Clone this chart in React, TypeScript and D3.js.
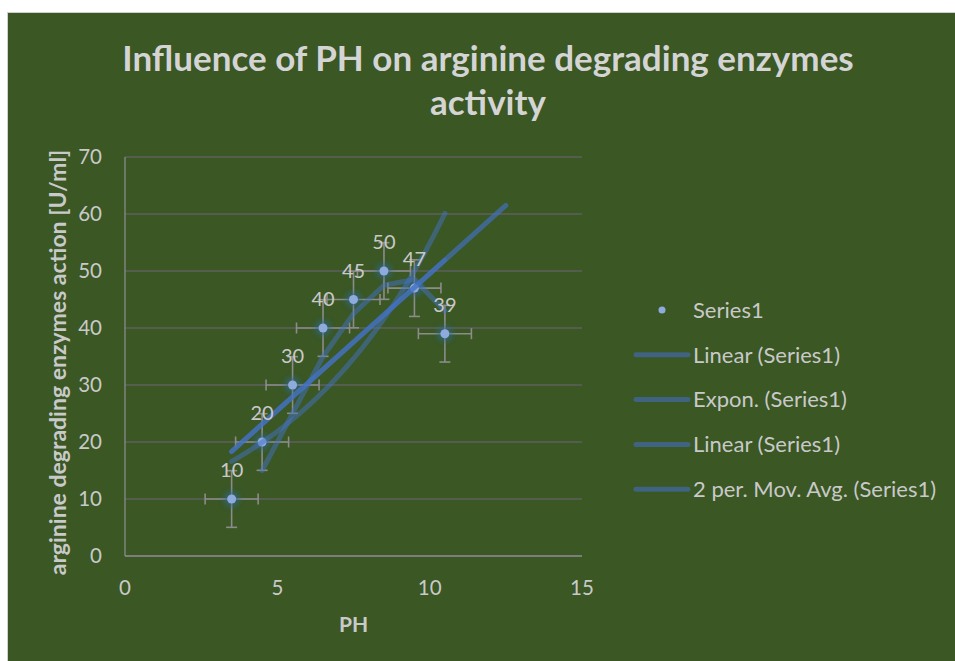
import React from 'react';
import * as d3 from 'd3';

// data
const phValues = [3.5, 4.5, 5.5, 6.5, 7.5, 8.5, 9.5, 10.5];
const activity = [10, 20, 30, 40, 45, 50, 47, 39];
const xError = 0.87;
const yError = 4.97;
const linearForecastTo = 12.5;
const xTicks = [0, 5, 10, 15];
const yTicks = [0, 10, 20, 30, 40, 50, 60, 70];
const legendLabels = ['Series1', 'Linear (Series1)', 'Expon. (Series1)', 'Linear (Series1)', '2 per. Mov. Avg. (Series1)'];

const FONT = 'Lato, "Open Sans", sans-serif';
const BG = '#3a5724';
const TEXT = '#c9c9c9';

// least squares fits, as Excel does for its trendlines
const fitLinear = (xs, ys) => {
  const mx = d3.mean(xs);
  const my = d3.mean(ys);
  const sxy = d3.sum(xs, (x, i) => (x - mx) * (ys[i] - my));
  const sxx = d3.sum(xs, (x) => (x - mx) * (x - mx));
  const slope = sxy / sxx;
  return { slope, intercept: my - slope * mx };
};

const App = () => {
  const width = 955;
  const height = 661;
  const x = d3.scaleLinear().domain([0, 15]).range([125, 582]);
  const y = d3.scaleLinear().domain([0, 70]).range([556, 157]);

  const pts = phValues.map((p, i) => ({ x: p, y: activity[i] }));
  const lin = fitLinear(phValues, activity);
  const expFit = fitLinear(phValues, activity.map((v) => Math.log(v)));
  const expA = Math.exp(expFit.intercept);

  const line = d3
    .line<[number, number]>()
    .x((d) => x(d[0]))
    .y((d) => y(d[1]));

  const x0 = phValues[0];
  const x1 = phValues[phValues.length - 1];
  const linearLong: [number, number][] = [
    [x0, lin.intercept + lin.slope * x0],
    [linearForecastTo, lin.intercept + lin.slope * linearForecastTo],
  ];
  const linearShort: [number, number][] = [
    [x0, lin.intercept + lin.slope * x0],
    [x1, lin.intercept + lin.slope * x1],
  ];
  const expCurve: [number, number][] = d3.range(x0, x1 + 0.01, 0.1).map((v) => [v, expA * Math.exp(expFit.slope * v)]);
  const movAvg: [number, number][] = phValues.slice(1).map((p, i) => [p, (activity[i] + activity[i + 1]) / 2]);

  const trendColor = '#4472c4';
  const cap = 5.5;

  return (
    <svg width={width} height={height} style={{ position: 'absolute', left: 0, top: 0 }} fontFamily={FONT}>
      <defs>
        <filter id="glow" x="-1" y="-1" width="3" height="3">
          <feGaussianBlur stdDeviation="3" />
        </filter>
      </defs>
      <rect x={0} y={0} width={width} height={height} fill="#ffffff" />
      <rect x={7.5} y={12.5} width={width} height={height} fill={BG} stroke="#d0d0d0" strokeWidth={1} />

      <text x={488} y={71} textAnchor="middle" fontSize={35} fontWeight="bold" fill="#d4d4d4">
        Influence of PH on arginine degrading enzymes
      </text>
      <text x={488} y={115} textAnchor="middle" fontSize={35} fontWeight="bold" fill="#d4d4d4">
        activity
      </text>

      {/* gridlines */}
      {yTicks.map((t) => (
        <line key={'g' + t} x1={x(0)} x2={x(15)} y1={y(t)} y2={y(t)} stroke="#5f5f5f" strokeWidth={1.3} />
      ))}
      <line x1={x(0)} x2={x(0)} y1={y(0)} y2={y(70)} stroke="#8a8a8a" strokeWidth={1.3} />
      <line x1={x(0)} x2={x(15)} y1={y(0)} y2={y(0)} stroke="#8a8a8a" strokeWidth={1.3} />

      {yTicks.map((t) => (
        <text key={'yt' + t} x={102} y={y(t)} dy="0.35em" textAnchor="end" fontSize={20.5} fill={TEXT}>
          {t}
        </text>
      ))}
      {xTicks.map((t) => (
        <text key={'xt' + t} x={x(t)} y={588} dy="0.35em" textAnchor="middle" fontSize={20.5} fill={TEXT}>
          {t}
        </text>
      ))}
      <text x={x(7.5)} y={625} dy="0.35em" textAnchor="middle" fontSize={21} fontWeight="bold" fill={TEXT}>
        PH
      </text>
      <text
        transform={`translate(58,${(y(0) + y(70)) / 2 + 6}) rotate(-90)`}
        textAnchor="middle"
        dy="0.35em"
        fontSize={23}
        fontWeight="bold"
        fill={TEXT}
      >
        arginine degrading enzymes action [U/ml]
      </text>

      {/* error bars */}
      {pts.map((d, i) => (
        <g key={'e' + i} stroke="#8c8c8c" strokeWidth={1.6}>
          <line x1={x(d.x - xError)} x2={x(d.x + xError)} y1={y(d.y)} y2={y(d.y)} />
          <line x1={x(d.x - xError)} x2={x(d.x - xError)} y1={y(d.y) - cap} y2={y(d.y) + cap} />
          <line x1={x(d.x + xError)} x2={x(d.x + xError)} y1={y(d.y) - cap} y2={y(d.y) + cap} />
          <line x1={x(d.x)} x2={x(d.x)} y1={y(d.y - yError)} y2={y(d.y + yError)} />
          <line x1={x(d.x) - cap} x2={x(d.x) + cap} y1={y(d.y - yError)} y2={y(d.y - yError)} />
          <line x1={x(d.x) - cap} x2={x(d.x) + cap} y1={y(d.y + yError)} y2={y(d.y + yError)} />
        </g>
      ))}

      {/* markers */}
      {pts.map((d, i) => (
        <g key={'m' + i}>
          <circle cx={x(d.x)} cy={y(d.y)} r={7} fill="#2f6a9a" opacity={0.8} filter="url(#glow)" />
          <circle cx={x(d.x)} cy={y(d.y)} r={4.5} fill="#8faadc" />
        </g>
      ))}

      {/* trendlines */}
      <g fill="none" strokeWidth={5} strokeLinecap="round" strokeLinejoin="round">
        <path d={line(expCurve)} stroke={trendColor} strokeOpacity={0.5} />
        <path d={line(movAvg)} stroke={trendColor} strokeOpacity={0.5} />
        <path d={line(linearShort)} stroke={trendColor} strokeOpacity={0.5} />
        <path d={line(linearLong)} stroke={trendColor} strokeOpacity={0.65} />
      </g>

      {/* data labels */}
      {pts.map((d, i) => (
        <text key={'l' + i} x={x(d.x)} y={y(d.y) - 22} textAnchor="middle" fontSize={20} fill={TEXT}>
          {d.y}
        </text>
      ))}

      {/* legend */}
      {legendLabels.map((label, i) => {
        const ly = 310 + i * 44.8;
        return (
          <g key={'lg' + i}>
            {i === 0 ? (
              <circle cx={662} cy={ly} r={3.5} fill="#8faadc" />
            ) : (
              <line x1={636} x2={688} y1={ly} y2={ly} stroke="#3f6381" strokeWidth={5} strokeLinecap="round" />
            )}
            <text x={693} y={ly} dy="0.35em" fontSize={22} fill={TEXT}>
              {label}
            </text>
          </g>
        );
      })}
    </svg>
  );
};

export default App;
